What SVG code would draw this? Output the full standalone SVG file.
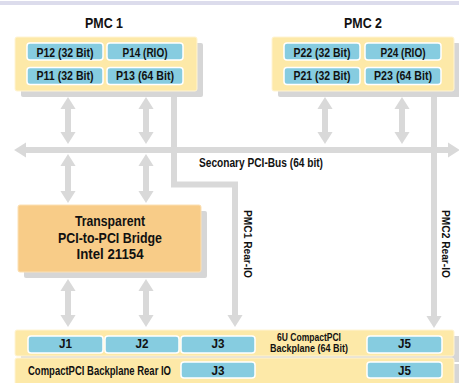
<svg xmlns="http://www.w3.org/2000/svg" width="459" height="383" viewBox="0 0 459 383">
<style>
.t{font-family:"Liberation Sans Narrow","Liberation Sans",Arial,sans-serif;font-weight:bold;fill:#111;}
.c{text-anchor:middle;}
.sh{fill:#d6d6d6;}
.yl{fill:#fde9a8;stroke:#fff4d4;stroke-width:1;}
.bl{fill:#86cce0;stroke:#ffffff;stroke-width:1.5;}
.ar{stroke:#d9d9d9;stroke-width:6;fill:none;}
</style>
<defs>
<marker id="ah" markerUnits="userSpaceOnUse" markerWidth="12" markerHeight="16" refX="1" refY="7" orient="auto-start-reverse" viewBox="0 0 11 14">
<path d="M0,0 L11,7 L0,14 z" fill="#d9d9d9"/>
</marker>
</defs>
<rect x="0" y="1" width="459" height="4" fill="#dcdcec"/>

<g id="connectors">
<line class="ar" x1="68" y1="108" x2="68" y2="133" marker-start="url(#ah)" marker-end="url(#ah)"/>
<line class="ar" x1="146" y1="108" x2="146" y2="133" marker-start="url(#ah)" marker-end="url(#ah)"/>
<line class="ar" x1="325" y1="108" x2="325" y2="133" marker-start="url(#ah)" marker-end="url(#ah)"/>
<line class="ar" x1="402" y1="108" x2="402" y2="133" marker-start="url(#ah)" marker-end="url(#ah)"/>
<line class="ar" x1="68" y1="165" x2="68" y2="192" marker-start="url(#ah)" marker-end="url(#ah)"/>
<line class="ar" x1="146" y1="165" x2="146" y2="192" marker-start="url(#ah)" marker-end="url(#ah)"/>
<line class="ar" x1="68" y1="290" x2="68" y2="316" marker-start="url(#ah)" marker-end="url(#ah)"/>
<line class="ar" x1="146" y1="290" x2="146" y2="316" marker-start="url(#ah)" marker-end="url(#ah)"/>
<line class="ar" x1="25" y1="150" x2="449" y2="150" marker-start="url(#ah)" marker-end="url(#ah)" stroke-width="7"/>
<path class="ar" d="M174,97 V184.5 H235 V316" marker-end="url(#ah)"/>
<line class="ar" x1="434" y1="97" x2="434" y2="317" marker-end="url(#ah)"/>
<text class="t" x="199" y="167" font-size="12" textLength="124" lengthAdjust="spacingAndGlyphs">Seconary PCI-Bus (64 bit)</text>
<text class="t" font-size="11.5" transform="translate(244,210) rotate(90)" textLength="68" lengthAdjust="spacingAndGlyphs">PMC1 Rear-IO</text>
<text class="t" font-size="11.5" transform="translate(442,210) rotate(90)" textLength="68" lengthAdjust="spacingAndGlyphs">PMC2 Rear-IO</text>
</g>

<g id="pmc1">
<text class="t c" x="104" y="28" font-size="14" textLength="38" lengthAdjust="spacingAndGlyphs">PMC 1</text>
<rect class="sh" x="21" y="43" width="182" height="54" rx="2"/>
<rect class="yl" x="15" y="37" width="182" height="54" rx="2"/>
<rect class="bl" x="27" y="43" width="76" height="17" rx="3"/>
<rect class="bl" x="107" y="43" width="76" height="17" rx="3"/>
<rect class="bl" x="27" y="67.5" width="76" height="17" rx="3"/>
<rect class="bl" x="107" y="67.5" width="76" height="17" rx="3"/>
<text class="t c" x="65" y="57" font-size="12" textLength="57" lengthAdjust="spacingAndGlyphs">P12 (32 Bit)</text>
<text class="t c" x="145" y="57" font-size="12" textLength="45" lengthAdjust="spacingAndGlyphs">P14 (RIO)</text>
<text class="t c" x="65" y="80" font-size="12" textLength="57" lengthAdjust="spacingAndGlyphs">P11 (32 Bit)</text>
<text class="t c" x="145" y="80" font-size="12" textLength="58" lengthAdjust="spacingAndGlyphs">P13 (64 Bit)</text>
</g>

<g id="pmc2">
<text class="t c" x="363" y="28" font-size="14" textLength="38" lengthAdjust="spacingAndGlyphs">PMC 2</text>
<rect class="sh" x="278" y="43" width="182" height="54" rx="2"/>
<rect class="yl" x="272" y="37" width="182" height="54" rx="2"/>
<rect class="bl" x="284" y="43" width="76" height="17" rx="3"/>
<rect class="bl" x="365" y="43" width="76" height="17" rx="3"/>
<rect class="bl" x="284" y="67.5" width="76" height="17" rx="3"/>
<rect class="bl" x="365" y="67.5" width="76" height="17" rx="3"/>
<text class="t c" x="322" y="57" font-size="12" textLength="57" lengthAdjust="spacingAndGlyphs">P22 (32 Bit)</text>
<text class="t c" x="403" y="57" font-size="12" textLength="45" lengthAdjust="spacingAndGlyphs">P24 (RIO)</text>
<text class="t c" x="322" y="80" font-size="12" textLength="57" lengthAdjust="spacingAndGlyphs">P21 (32 Bit)</text>
<text class="t c" x="403" y="80" font-size="12" textLength="58" lengthAdjust="spacingAndGlyphs">P23 (64 Bit)</text>
</g>

<g id="bridge">
<rect class="sh" x="24" y="211" width="183" height="67" rx="2"/>
<rect x="18" y="205" width="183" height="67" rx="2" fill="#f8cc88" stroke="#fbe0b4" stroke-width="1"/>
<text class="t c" x="110" y="226" font-size="15" textLength="70" lengthAdjust="spacingAndGlyphs">Transparent</text>
<text class="t c" x="110" y="243" font-size="15" textLength="104" lengthAdjust="spacingAndGlyphs">PCI-to-PCI Bridge</text>
<text class="t c" x="110" y="259" font-size="15" textLength="67" lengthAdjust="spacingAndGlyphs">Intel 21154</text>
</g>

<g id="backplane">
<rect class="sh" x="21" y="336" width="439" height="26"/>
<rect class="yl" x="15" y="330" width="439" height="26" rx="2"/>
<rect class="bl" x="28" y="336" width="75" height="17" rx="3"/>
<rect class="bl" x="105" y="336" width="74" height="17" rx="3"/>
<rect class="bl" x="181" y="336" width="74" height="17" rx="3"/>
<rect class="bl" x="367" y="336" width="75" height="17" rx="3"/>
<text class="t c" x="65.5" y="348" font-size="12" textLength="13" lengthAdjust="spacingAndGlyphs">J1</text>
<text class="t c" x="142" y="348" font-size="12" textLength="13" lengthAdjust="spacingAndGlyphs">J2</text>
<text class="t c" x="218" y="348" font-size="12" textLength="13" lengthAdjust="spacingAndGlyphs">J3</text>
<text class="t c" x="404.5" y="348" font-size="12" textLength="13" lengthAdjust="spacingAndGlyphs">J5</text>
<text class="t c" x="309" y="341" font-size="11" textLength="64" lengthAdjust="spacingAndGlyphs">6U CompactPCI</text>
<text class="t c" x="309" y="352" font-size="11" textLength="78" lengthAdjust="spacingAndGlyphs">Backplane (64 Bit)</text>
</g>

<g id="rear-io">
<rect class="sh" x="21" y="364" width="439" height="26"/>
<rect class="yl" x="15" y="358" width="439" height="30" rx="2"/>
<rect class="bl" x="181" y="362" width="74" height="16" rx="3"/>
<rect class="bl" x="367" y="362" width="75" height="16" rx="3"/>
<text class="t" x="28" y="375" font-size="12" textLength="143" lengthAdjust="spacingAndGlyphs">CompactPCI Backplane Rear IO</text>
<text class="t c" x="218" y="375" font-size="12" textLength="13" lengthAdjust="spacingAndGlyphs">J3</text>
<text class="t c" x="404.5" y="375" font-size="12" textLength="13" lengthAdjust="spacingAndGlyphs">J5</text>
</g>
</svg>
